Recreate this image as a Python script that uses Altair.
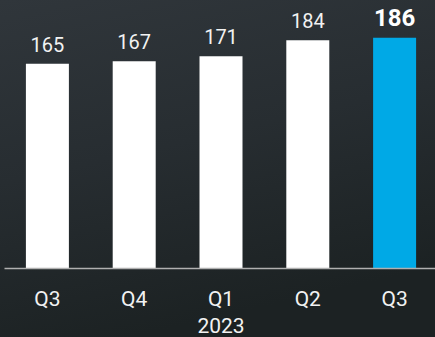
import altair as alt
import pandas as pd

keys = ["Q3 2022", "Q4 2022", "Q1 2023", "Q2 2023", "Q3 2023"]
values = [165, 167, 171, 184, 186]
highlight = [False, False, False, False, True]

df = pd.DataFrame({"key": keys, "value": values, "hl": highlight})

x = alt.X(
    "key:N",
    sort=keys,
    title=None,
    scale=alt.Scale(range=[0, 434], paddingInner=0.5, paddingOuter=0.25),
    axis=alt.Axis(
        domain=True, domainColor="#b0b0b0", domainWidth=1.5, zindex=1,
        ticks=False, labelAngle=0, labelFont="Roboto", labelFontSize=21,
        labelFontWeight="normal", labelColor="#f2f2f2", labelPadding=37,
        labelBaseline="alphabetic", labelLineHeight=27,
        labelExpr="datum.value == 'Q1 2023' ? ['Q1', '2023'] : split(datum.value, ' ')[0]",
    ),
)
y = alt.Y("value:Q", scale=alt.Scale(domain=[0, 216.5], nice=False, zero=True), axis=None)

bg = alt.Chart(pd.DataFrame({"a": [0]})).mark_rect(
    fill={"gradient": "linear", "x1": 0, "y1": 0, "x2": 0.3, "y2": 1,
          "stops": [{"offset": 0, "color": "#30363b"},
                    {"offset": 0.5, "color": "#272d31"},
                    {"offset": 1, "color": "#1c2223"}]}
).encode(x=alt.value(-4), x2=alt.value(435), y=alt.value(0), y2=alt.value(337))

base = alt.Chart(df).encode(x=x, y=y)

bars = base.mark_bar(size=43).encode(
    color=alt.condition("datum.hl", alt.value("#00a9e6"), alt.value("#ffffff"))
)

labels = base.transform_filter("!datum.hl").mark_text(
    dy=-12, baseline="alphabetic", font="Roboto", fontSize=20, fontWeight="normal", color="#f2f2f2"
).encode(text="value:Q")

labels_hl = base.transform_filter("datum.hl").mark_text(
    dy=-12, baseline="alphabetic", font="Roboto", fontSize=24, fontWeight="bold", color="#ffffff"
).encode(text="value:Q")

chart = (
    alt.layer(bg, bars, labels, labels_hl)
    .properties(
        width=431, height=268, background="#252b2f",
        padding={"left": 4, "top": 0, "right": 0, "bottom": 69},
        autosize=alt.AutoSizeParams(type="none"),
    )
    .configure_view(stroke=None)
)

chart.save("out.html", embed_options={"renderer": "svg", "actions": False})
